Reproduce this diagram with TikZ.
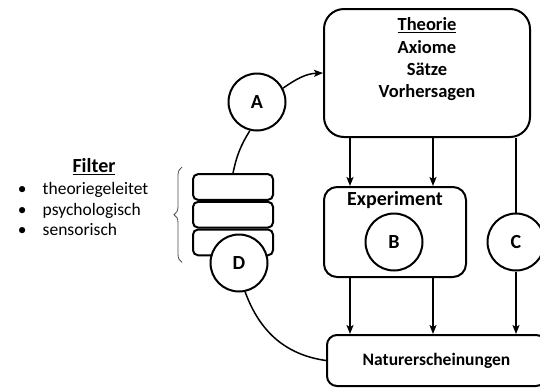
\documentclass[tikz,border=0pt]{standalone}
\usepackage{fontspec}
\setmainfont{Carlito}
\usetikzlibrary{arrows.meta,positioning,decorations.pathreplacing}

\begin{document}
\begin{tikzpicture}[x=1pt,y=-1pt,>={Stealth[length=9pt,width=7pt,inset=2pt]},
                line width=1.5pt,font=\fontsize{17.5}{22}\selectfont\bfseries,
                big/.style={font=\fontsize{20}{24}\selectfont\bfseries},
                box/.style={draw,line width=2pt,inner sep=0pt},
                layer/.style={draw,line width=2pt,rounded corners=5pt,minimum width=80pt,
                              minimum height=25.7pt,inner sep=0pt},
                letter/.style={draw,line width=2pt,circle,fill=white,minimum size=57pt,inner sep=0pt,big}]
            \useasboundingbox (0,0) rectangle (540,389);
            % boxes
            \node [box,rounded corners=20pt,minimum width=206pt,minimum height=128pt] (theorie) at (427,73) {};
            \node [box,rounded corners=13pt,minimum width=142pt,minimum height=90pt]  (experiment) at (395,232) {};
            \node [box,rounded corners=10pt,minimum width=219pt,minimum height=51pt]  (natur) at (436.5,360.5) {Naturerscheinungen};
            \node [align=center,inner sep=0pt,anchor=north,font=\fontsize{18.5}{22.3}\selectfont\bfseries] (theorietext) at (427,17)
                  {\underline{Theorie}\\Axiome\\Sätze\\Vorhersagen};
            \node [big,inner sep=0pt,anchor=north] (exptext) at (395,191) {Experiment};
            % filter stack
            \node [layer] (filt1) at (233,187) {};
            \node [layer] (filt2) [below=0pt of filt1] {};
            \node [layer] (filt3) [below=0pt of filt2] {};
            \draw [line width=0.8pt,black!70,decorate,decoration={brace,amplitude=8pt}]
                  ([xshift=-10pt,yshift=-6pt]filt3.south west) -- ([xshift=-10pt,yshift=6pt]filt1.north west);
            % circles
            \node [letter] (a) at (257,102) {A};
            \node [letter] (b) at (394,242) {B};
            \node [letter] (c) at (516,242) {C};
            \node [letter] (d) at (239,263) {D};
            % filter text
            \node [big] (filtertitle) at (94,167) {\underline{Filter}};
            \node [anchor=north west,align=left,inner sep=0pt,
                   font=\fontsize{17.5}{20.5}\selectfont] (filterlist) at (17,182)
                  {\makebox[25pt][l]{\textbullet}theoriegeleitet\\
                   \makebox[25pt][l]{\textbullet}psychologisch\\
                   \makebox[25pt][l]{\textbullet}sensorisch};
            % connectors
            \coordinate (left)  at (350,0);
            \coordinate (mid)   at (433,0);
            \path [->] (theorie.south -| left) edge (experiment.north -| left)
                       (theorie.south -| mid)  edge (experiment.north -| mid)
                       (experiment.south -| left) edge (natur.north -| left)
                       (experiment.south -| mid)  edge (natur.north -| mid)
                       (c) edge (natur.north -| c);
            \draw (theorie.south -| c) -- (c);
            \draw [->] (a.28) to [out=35,in=182] (theorie.west);
            \draw (a.256) to [bend right=10] (filt1.north);
            \draw (d.282) to [out=-70,in=172] (natur.west);
\end{tikzpicture}
\end{document}
